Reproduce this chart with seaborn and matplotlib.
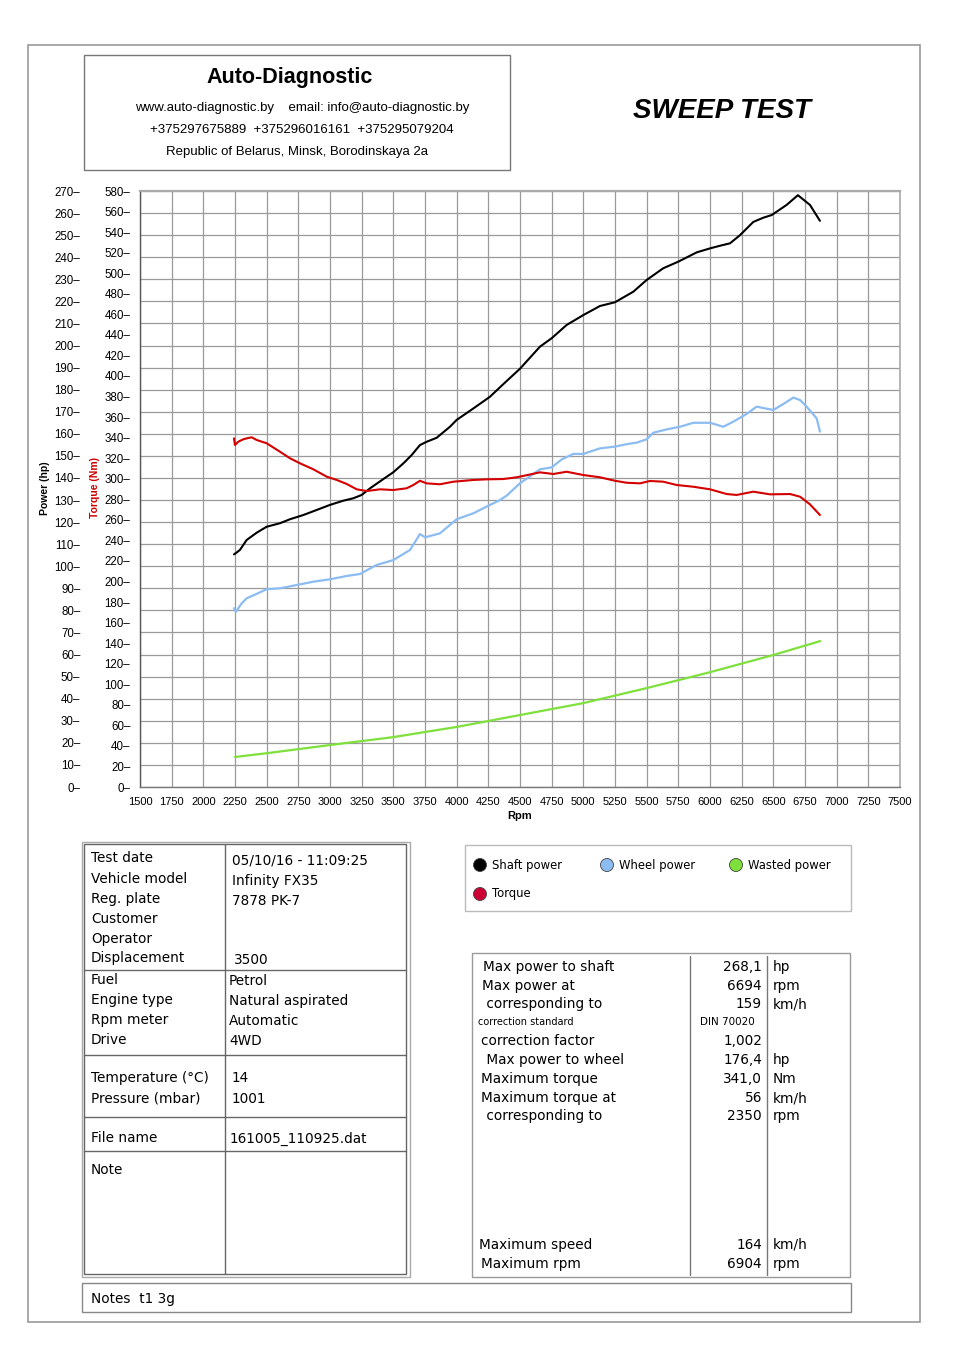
import matplotlib
matplotlib.use("Agg")
import matplotlib.pyplot as plt
import seaborn as sns
from matplotlib.patches import Rectangle, Circle
from matplotlib.lines import Line2D

# ---------------- data ----------------
rpm_shaft = [2242, 2258, 2289, 2342, 2421, 2500, 2605, 2684, 2789, 2895, 3000, 3105, 3184, 3250,
             3316, 3421, 3500, 3579, 3645, 3710, 3763, 3842, 3947, 4000, 4132, 4263, 4368, 4500,
             4658, 4750, 4868, 5000, 5131, 5250, 5395, 5500, 5631, 5750, 5895, 6000, 6079, 6158,
             6237, 6342, 6421, 6487, 6605, 6694, 6789, 6868]
hp_shaft = [105.4, 106.0, 107.4, 111.9, 115.2, 117.9, 119.5, 121.3, 123.2, 125.5, 127.8, 129.7, 130.8,
            132.3, 135.3, 139.5, 142.6, 146.6, 150.4, 154.9, 156.4, 158.2, 163.2, 166.3, 171.5, 176.8,
            182.5, 189.5, 199.5, 203.3, 209.3, 213.8, 217.9, 219.6, 224.4, 229.7, 235.0, 238.0, 242.2,
            244.0, 245.2, 246.3, 250.0, 256.0, 257.9, 259.1, 263.7, 268.1, 263.7, 256.5]

rpm_wheel = [2242, 2258, 2300, 2342, 2421, 2500, 2605, 2737, 2868, 3000, 3132, 3237, 3368, 3500,
             3632, 3710, 3750, 3868, 4000, 4132, 4263, 4342, 4395, 4500, 4658, 4750, 4829, 4921,
             5000, 5131, 5250, 5342, 5421, 5500, 5553, 5658, 5763, 5868, 6000, 6105, 6184, 6289,
             6368, 6500, 6579, 6658, 6711, 6763, 6842, 6868]
hp_wheel = [81.0, 79.4, 83.0, 85.5, 87.5, 89.6, 90.0, 91.5, 93.0, 94.1, 95.6, 96.5, 100.6, 102.8,
            107.4, 114.6, 113.1, 114.9, 121.3, 124.0, 127.8, 130.0, 132.0, 137.6, 143.9, 144.8, 148.4,
            150.9, 150.9, 153.4, 154.2, 155.3, 156.0, 157.5, 160.5, 162.0, 163.2, 165.0, 165.0, 163.2,
            165.5, 169.0, 172.3, 170.8, 173.5, 176.4, 175.3, 172.3, 167.0, 161.0]

rpm_torque = [2242, 2250, 2276, 2316, 2350, 2382, 2421, 2500, 2605, 2684, 2763, 2868, 2974, 3053,
              3132, 3211, 3290, 3395, 3500, 3605, 3658, 3710, 3763, 3868, 3974, 4132, 4237, 4368,
              4474, 4658, 4763, 4868, 5000, 5131, 5250, 5342, 5447, 5526, 5631, 5737, 5868, 6000,
              6132, 6210, 6342, 6474, 6632, 6711, 6789, 6868]
nm_torque = [339.3, 332.8, 336.0, 338.4, 339.5, 340.3, 337.7, 334.5, 326.3, 319.9, 315.0, 309.2, 302.0,
             298.8, 294.9, 289.7, 288.0, 289.7, 289.0, 290.7, 293.9, 298.0, 295.5, 294.6, 297.1, 298.8,
             299.4, 299.7, 301.4, 306.2, 304.6, 306.8, 303.6, 301.4, 298.0, 296.1, 295.5, 297.8, 297.1,
             293.9, 292.2, 289.7, 285.1, 284.2, 287.4, 284.8, 285.1, 282.5, 275.1, 264.7]

rpm_wasted = [2250, 2500, 3000, 3500, 4000, 4500, 5000, 5500, 6000, 6500, 6870]
hp_wasted = [13.6, 15.3, 19.0, 22.6, 27.2, 32.6, 38.0, 44.8, 52.0, 59.8, 66.1]

x_ticks = list(range(1500, 7501, 250))
power_ticks = list(range(0, 271, 10))
torque_ticks = list(range(0, 581, 20))

left_labels = ["Test date", "Vehicle model", "Reg. plate", "Customer", "Operator", "Displacement",
               "Fuel", "Engine type", "Rpm meter", "Drive", "Temperature (°C)", "Pressure (mbar)",
               "File name", "Note"]
left_values = ["05/10/16 - 11:09:25", "Infinity FX35", "7878 PK-7", "", "", "3500",
               "Petrol", "Natural aspirated", "Automatic", "4WD", "14", "1001",
               "161005_110925.dat", ""]

right_labels = ["Max power to shaft", "Max power at", " corresponding to", "correction standard",
                "correction factor", " Max power to wheel", "Maximum torque", "Maximum torque at",
                " corresponding to", "Maximum speed", "Maximum rpm"]
right_values = ["268,1", "6694", "159", "DIN 70020", "1,002", "176,4", "341,0", "56", "2350", "164", "6904"]
right_units = ["hp", "rpm", "km/h", "", "", "hp", "Nm", "km/h", "rpm", "km/h", "rpm"]

legend_names = ["Shaft power", "Wheel power", "Wasted power", "Torque"]

C_SHAFT, C_WHEEL, C_WASTE, C_TORQUE = "#000000", "#8bbcf2", "#7ee03a", "#d40000"

# ---------------- figure ----------------
sns.set_theme(style="white")
plt.rcParams['font.family'] = ['Liberation Sans', 'DejaVu Sans']
plt.rcParams['text.color'] = 'black'
plt.rcParams['axes.labelcolor'] = 'black'
plt.rcParams['xtick.color'] = 'black'
plt.rcParams['ytick.color'] = 'black'
W, H = 960, 1359
fig = plt.figure(figsize=(9.6, 13.59), dpi=100)
fig.patch.set_facecolor("white")

ov = fig.add_axes([0, 0, 1, 1])
ov.set_xlim(0, W); ov.set_ylim(H, 0); ov.axis('off')

def rect(x0, y0, x1, y1, ec="#999999", lw=1.0):
    ov.add_patch(Rectangle((x0, y0), x1 - x0, y1 - y0, fill=False, ec=ec, lw=lw))

def hline(x0, x1, y, c="#666666", lw=1.0):
    ov.add_line(Line2D([x0, x1], [y, y], color=c, lw=lw))

def vline(x, y0, y1, c="#666666", lw=1.0):
    ov.add_line(Line2D([x, x], [y0, y1], color=c, lw=lw))

# outer frame
rect(28, 45, 920, 1322, ec="#9a9a9a", lw=1.2)

# header
rect(84, 55, 510, 170, ec="#777777", lw=1.0)
ov.text(290, 78, "Auto-Diagnostic", ha='center', va='center', fontsize=15.5, fontweight='heavy', color='black')
ov.text(302, 108, "www.auto-diagnostic.by    email: info@auto-diagnostic.by", ha='center', va='center', fontsize=9.5)
ov.text(302, 130, "+375297675889  +375296016161  +375295079204", ha='center', va='center', fontsize=9.5)
ov.text(297, 152, "Republic of Belarus, Minsk, Borodinskaya 2a", ha='center', va='center', fontsize=9.5)
ov.text(722, 111, "SWEEP TEST", ha='center', va='center', fontsize=20, fontweight='bold', style='italic', color='black')

# ---------------- chart ----------------
ax = fig.add_axes([140 / W, 1 - 787 / H, 760 / W, 596 / H])
ax2 = ax.twinx()

sns.lineplot(x=rpm_wasted, y=hp_wasted, ax=ax, color=C_WASTE, lw=1.6, zorder=3)
sns.lineplot(x=rpm_wheel, y=hp_wheel, ax=ax, color=C_WHEEL, lw=1.6, zorder=3)
sns.lineplot(x=rpm_shaft, y=hp_shaft, ax=ax, color=C_SHAFT, lw=1.5, zorder=4)
sns.lineplot(x=rpm_torque, y=nm_torque, ax=ax2, color=C_TORQUE, lw=1.5, zorder=4)

ax.set_xlim(1500, 7500)
ax.set_ylim(0, 270)
ax2.set_ylim(0, 580)

NARROW = ['Liberation Sans Narrow', 'Liberation Sans']
ax.set_xticks(x_ticks)
ax.set_xticklabels([str(v) for v in x_ticks], family=NARROW)
ax.tick_params(axis='x', direction='out', length=4, width=0.8, color='#555555', pad=3, labelsize=8)
ax.set_yticks(power_ticks)
ax.set_yticklabels([f"{v}–" for v in power_ticks], family=NARROW)
ax.tick_params(axis='y', length=0, pad=43, labelsize=8.3)
ax2.yaxis.set_ticks_position('left')
ax2.set_yticks(torque_ticks)
ax2.set_yticklabels([f"{v}–" for v in torque_ticks], family=NARROW)
ax2.tick_params(axis='y', length=0, pad=7, labelsize=8.3)

ax.grid(True, color='#9a9a9a', lw=0.9)
ax.set_axisbelow(True)
for s in ax2.spines.values():
    s.set_visible(False)
ax.spines['top'].set_color('#aaaaaa'); ax.spines['top'].set_linewidth(1.6)
ax.spines['right'].set_color('#aaaaaa'); ax.spines['right'].set_linewidth(1.2)
ax.spines['left'].set_color('#555555'); ax.spines['left'].set_linewidth(1.0)
ax.spines['bottom'].set_color('#777777'); ax.spines['bottom'].set_linewidth(1.0)

ax.set_xlabel("Rpm", fontsize=8, fontweight='bold', labelpad=3)
ax.set_ylabel("")
ax2.set_ylabel("")
ax.text(-0.125, 0.502, "Power (hp)", transform=ax.transAxes, rotation=90, ha='center', va='center',
        fontsize=7.5, fontweight='bold')
ax.text(-0.059, 0.502, "Torque (Nm)", transform=ax.transAxes, rotation=90, ha='center', va='center',
        fontsize=7.5, fontweight='bold', color='#cc0000')

# ---------------- left info table ----------------
TF = ['DejaVu Sans']
FS = 9.8
rect(82, 842, 410, 1277, ec="#aaaaaa", lw=1.0)
rect(84, 844, 406, 1274, ec="#666666", lw=1.0)
vline(225, 844, 1274)
for yy in [970, 1055, 1117, 1151]:
    hline(84, 406, yy)
label_y = [858, 879, 899, 919, 939, 958, 980, 1000, 1020, 1040, 1078, 1099, 1138, 1170]
value_x = [232, 232, 232, 232, 232, 234, 229, 229, 229, 229, 232, 232, 230, 232]
value_dy = [2, 2, 2, 0, 0, 2, 1, 1, 1, 1, 0, 0, 1, 0]
for lab, val, yy, vx, dy in zip(left_labels, left_values, label_y, value_x, value_dy):
    ov.text(91, yy, lab, ha='left', va='center', fontsize=FS, family=TF)
    if val:
        ov.text(vx, yy + dy, val, ha='left', va='center', fontsize=FS, family=TF)

# ---------------- legend box ----------------
rect(465, 845, 851, 911, ec="#bbbbbb", lw=1.0)
leg_pos = [(480, 865), (607, 865), (736, 865), (480, 894)]
leg_cols = [C_SHAFT, C_WHEEL, C_WASTE, "#cc0033"]
for (lx, ly), name, col in zip(leg_pos, legend_names, leg_cols):
    ov.add_patch(Circle((lx, ly), 6.5, fc=col, ec="#444444", lw=0.6))
    ov.text(lx + 12, ly, name, ha='left', va='center', fontsize=8.4, family=TF)

# ---------------- right results table ----------------
rect(472, 953, 850, 1277, ec="#999999", lw=1.0)
vline(690, 956, 1275, c="#777777")
vline(767, 956, 1275, c="#777777")
ry = [967, 986, 1004, 1022, 1041, 1060, 1079, 1098, 1116, 1245, 1264]
rx = [483, 482, 482, 478, 481, 482, 481, 481, 482, 479, 481]
for lab, val, unit, yy, xx in zip(right_labels, right_values, right_units, ry, rx):
    small = (lab == "correction standard")
    ov.text(xx, yy, lab, ha='left', va='center', fontsize=7 if small else FS, family=TF)
    if small:
        ov.text(700, yy, val, ha='left', va='center', fontsize=7.5, family=TF)
    else:
        ov.text(762, yy, val, ha='right', va='center', fontsize=FS, family=TF)
    if unit:
        ov.text(773, yy, unit, ha='left', va='center', fontsize=FS, family=TF)

# ---------------- notes ----------------
rect(82, 1283, 851, 1312, ec="#888888", lw=1.0)
ov.text(91, 1299, "Notes  t1 3g", ha='left', va='center', fontsize=FS, family=TF)

fig.savefig("out.png", dpi=100, facecolor="white")
